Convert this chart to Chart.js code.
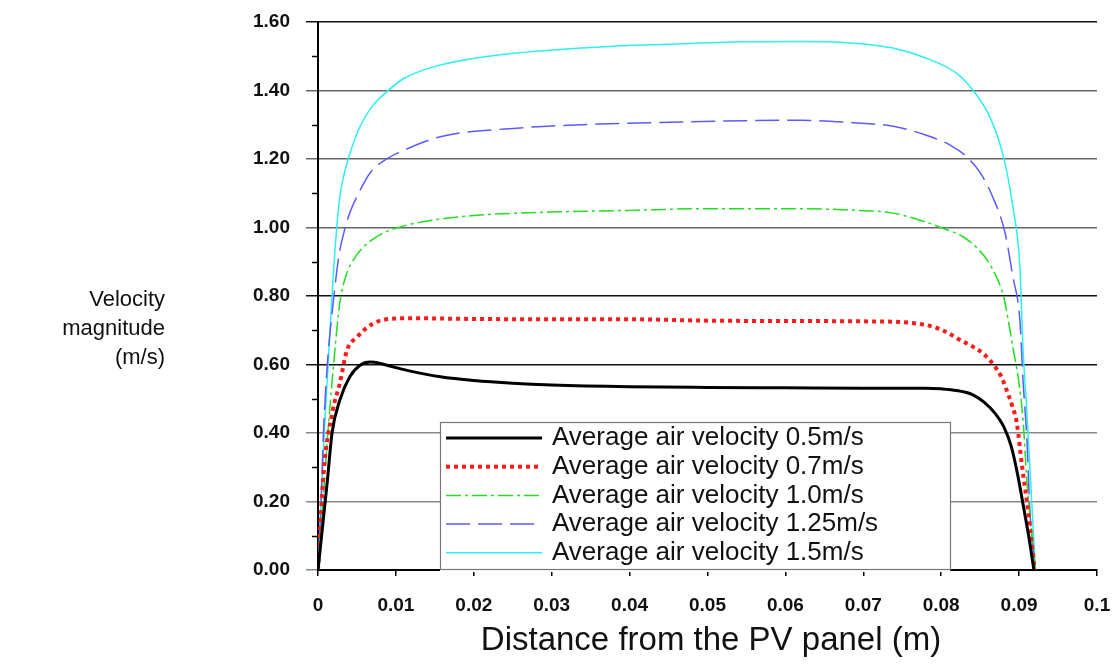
<!DOCTYPE html>
<html>
<head>
<meta charset="utf-8">
<script src="https://cdn.jsdelivr.net/npm/chart.js@4"></script>
<style>
  body { margin: 0; background: #fff; }
  #chart { display: block; }
</style>
</head>
<body>
<canvas id="chart" width="1114" height="667"></canvas>
<script>
const labels = [
  'Average air velocity 0.5m/s',
  'Average air velocity 0.7m/s',
  'Average air velocity 1.0m/s',
  'Average air velocity 1.25m/s',
  'Average air velocity 1.5m/s'
];

// distance (m) and velocity (m/s)
const x05 = [0, 0.0006, 0.0012, 0.0018, 0.0028, 0.0041, 0.0054, 0.0067, 0.008, 0.0096, 0.012, 0.0157, 0.02, 0.025, 0.03, 0.04, 0.05, 0.06, 0.07, 0.078, 0.08, 0.082, 0.084, 0.0855, 0.087, 0.088, 0.089, 0.0898, 0.0906, 0.0913, 0.0919];
const v05 = [0, 0.13, 0.26, 0.40, 0.496, 0.565, 0.598, 0.607, 0.603, 0.593, 0.58, 0.564, 0.553, 0.545, 0.54, 0.535, 0.533, 0.532, 0.531, 0.531, 0.529, 0.524, 0.512, 0.49, 0.455, 0.42, 0.36, 0.28, 0.18, 0.09, 0];

const x07 = [0, 0.0007, 0.0019, 0.0028, 0.0037, 0.005, 0.0071, 0.0092, 0.012, 0.02, 0.03, 0.04, 0.05, 0.06, 0.07, 0.0747, 0.077, 0.079, 0.0808, 0.0824, 0.084, 0.0854, 0.0867, 0.0877, 0.0884, 0.0891, 0.0897, 0.0904, 0.0912, 0.092];
const v07 = [0, 0.28, 0.467, 0.545, 0.64, 0.68, 0.72, 0.733, 0.735, 0.733, 0.732, 0.732, 0.728, 0.727, 0.726, 0.724, 0.719, 0.71, 0.693, 0.672, 0.653, 0.632, 0.60, 0.565, 0.525, 0.48, 0.43, 0.30, 0.165, 0];

const x10 = [0, 0.0005, 0.0012, 0.002, 0.0028, 0.0036, 0.0044, 0.0055, 0.0067, 0.0085, 0.01, 0.013, 0.02, 0.03, 0.04, 0.05, 0.06, 0.0683, 0.0738, 0.078, 0.0802, 0.0828, 0.0846, 0.0859, 0.0872, 0.088, 0.0886, 0.0892, 0.0899, 0.0905, 0.091, 0.0917, 0.0921];
const v10 = [0, 0.15, 0.38, 0.6, 0.78, 0.86, 0.9, 0.935, 0.96, 0.985, 0.998, 1.015, 1.035, 1.045, 1.05, 1.055, 1.055, 1.051, 1.042, 1.016, 0.998, 0.973, 0.94, 0.905, 0.85, 0.8, 0.73, 0.65, 0.56, 0.44, 0.26, 0.09, 0];

const x125 = [0, 0.0004, 0.0007, 0.0012, 0.002, 0.0027, 0.0035, 0.0042, 0.005, 0.0067, 0.0088, 0.0105, 0.0157, 0.0255, 0.0362, 0.045, 0.055, 0.062, 0.0692, 0.074, 0.078, 0.0812, 0.0833, 0.085, 0.0866, 0.0882, 0.0892, 0.0901, 0.0905, 0.091, 0.0914, 0.0921];
const v125 = [0, 0.2, 0.4, 0.6, 0.79, 0.92, 1.0, 1.05, 1.09, 1.16, 1.2, 1.22, 1.265, 1.29, 1.302, 1.307, 1.312, 1.313, 1.305, 1.295, 1.27, 1.24, 1.206, 1.16, 1.09, 0.984, 0.856, 0.73, 0.555, 0.38, 0.165, 0];

const x15 = [0, 0.0004, 0.0008, 0.0013, 0.0018, 0.0023, 0.0028, 0.0034, 0.0043, 0.0055, 0.007, 0.0088, 0.011, 0.0148, 0.0212, 0.0362, 0.045, 0.055, 0.062, 0.0683, 0.0738, 0.078, 0.082, 0.0841, 0.0863, 0.088, 0.0892, 0.0901, 0.0905, 0.091, 0.0917, 0.0921];
const v15 = [0, 0.2, 0.4, 0.6, 0.8, 0.97, 1.09, 1.16, 1.23, 1.3, 1.355, 1.396, 1.435, 1.469, 1.498, 1.527, 1.535, 1.542, 1.543, 1.539, 1.524, 1.495, 1.45, 1.40, 1.32, 1.206, 1.06, 0.885, 0.65, 0.46, 0.165, 0];

const FONT = '"Liberation Sans", Arial, sans-serif';

function pts(xs, ys) {
  return xs.map((x, i) => ({ x, y: ys[i] }));
}

function series(label, xs, ys, color, width, dash) {
  return {
    label,
    data: pts(xs, ys),
    borderColor: color,
    borderWidth: width,
    borderDash: dash,
    pointRadius: 0,
    fill: false,
    cubicInterpolationMode: 'monotone'
  };
}

// axis titles, minor ticks and the boxed legend
const decorations = {
  id: 'decorations',
  afterDraw(chart) {
    const ctx = chart.ctx;
    const y = chart.scales.y;
    const area = chart.chartArea;

    ctx.save();
    ctx.strokeStyle = '#000';
    ctx.lineWidth = 1.5;
    for (let v = 0.1; v < 1.6; v += 0.2) {
      const py = Math.round(y.getPixelForValue(v)) + 0.5;
      ctx.beginPath();
      ctx.moveTo(area.left - 6, py);
      ctx.lineTo(area.left, py);
      ctx.stroke();
    }

    ctx.fillStyle = '#111';
    ctx.font = '22px ' + FONT;
    ctx.textAlign = 'right';
    ctx.textBaseline = 'middle';
    ctx.fillText('Velocity', 165, 300);
    ctx.fillText('magnitude', 165, 329);
    ctx.fillText('(m/s)', 165, 358);

    ctx.font = '33px ' + FONT;
    ctx.textAlign = 'center';
    ctx.fillText('Distance from the PV panel (m)', 711, 641);

    // legend box
    const bx = 440, by = 422, bw = 510, bh = 147;
    ctx.fillStyle = '#fff';
    ctx.fillRect(bx, by, bw, bh + 3);
    ctx.strokeStyle = '#777';
    ctx.lineWidth = 1.2;
    ctx.strokeRect(bx + 0.5, by + 0.5, bw, bh);

    ctx.font = '26px ' + FONT;
    ctx.textAlign = 'left';
    chart.data.datasets.forEach((ds, i) => {
      const ry = 438 + i * 28.7;
      ctx.save();
      ctx.strokeStyle = ds.borderColor;
      ctx.lineWidth = ds.borderWidth;
      ctx.setLineDash(ds.borderDash || []);
      ctx.beginPath();
      ctx.moveTo(446, ry);
      ctx.lineTo(542, ry);
      ctx.stroke();
      ctx.restore();
      ctx.fillStyle = '#111';
      ctx.fillText(ds.label, 552, ry);
    });
    ctx.restore();
  }
};

function gridColor(ctx) {
  const v = Math.round(ctx.tick.value * 10) / 10;
  if (v >= 1.55) return '#111';
  if (v === 0.6 || v === 0.8) return '#111';
  if (v <= 0.45) return '#888';
  return '#666';
}

new Chart(document.getElementById('chart'), {
  type: 'line',
  data: {
    datasets: [
      series(labels[0], x05, v05, '#000000', 3, []),
      series(labels[1], x07, v07, '#ff1a1a', 4, [4, 4]),
      series(labels[2], x10, v10, '#22dd22', 1.5, [15, 4, 3, 4]),
      series(labels[3], x125, v125, '#5a5aff', 1.5, [24, 8]),
      series(labels[4], x15, v15, '#2af0f0', 1.5, [])
    ]
  },
  options: {
    responsive: false,
    animation: false,
    devicePixelRatio: 1,
    layout: { padding: { top: 22, right: 17, left: 0, bottom: 0 } },
    plugins: {
      legend: { display: false },
      tooltip: { enabled: false }
    },
    scales: {
      x: {
        type: 'linear',
        min: 0,
        max: 0.1,
        afterFit(scale) {
          scale.height = 97;
          scale.paddingLeft = 0;
          scale.paddingRight = 0;
        },
        ticks: {
          stepSize: 0.01,
          padding: 18,
          color: '#111',
          font: { family: FONT, size: 19, weight: 'bold' },
          maxRotation: 0,
          callback: v => String(Math.round(v * 100) / 100)
        },
        grid: { drawOnChartArea: false, tickLength: 6, color: '#000', lineWidth: 1.5 },
        border: { color: '#000', width: 2 }
      },
      y: {
        min: 0,
        max: 1.6,
        afterFit(scale) {
          scale.width = 318;
          scale.paddingTop = 0;
          scale.paddingBottom = 0;
        },
        ticks: {
          stepSize: 0.2,
          padding: 16,
          color: '#111',
          font: { family: FONT, size: 19, weight: 'bold' },
          callback: v => v.toFixed(2)
        },
        grid: { color: gridColor, lineWidth: 1.5, tickLength: 12 },
        border: { color: '#000', width: 2 }
      }
    }
  },
  plugins: [decorations]
});
</script>
</body>
</html>
